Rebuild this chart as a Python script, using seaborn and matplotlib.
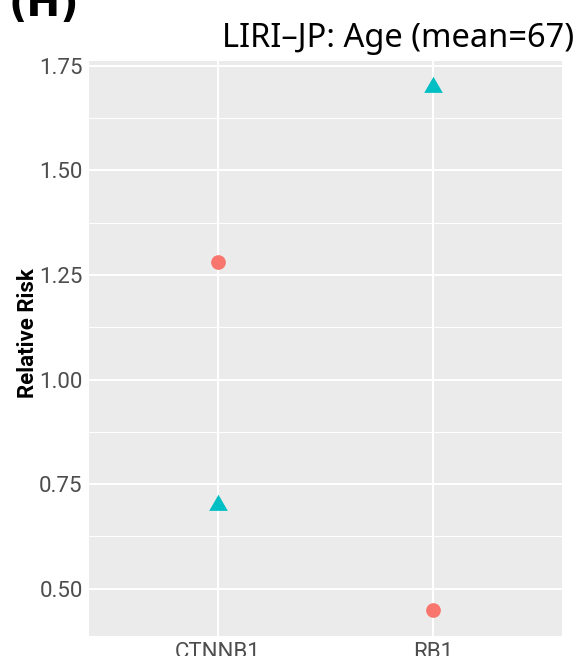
import numpy as np
import pandas as pd
import matplotlib
matplotlib.use("Agg")
import matplotlib.pyplot as plt
from matplotlib.ticker import MultipleLocator
import seaborn as sns

# Relative risk per gene, split by age group
genes = ["CTNNB1", "CTNNB1", "RB1", "RB1"]
age_group = ["below mean", "above mean", "below mean", "above mean"]
relative_risk = [1.28, 0.70, 0.45, 1.70]

y_ticks = [0.50, 0.75, 1.00, 1.25, 1.50, 1.75]
y_tick_labels = ["0.50", "0.75", "1.00", "1.25", "1.50", "1.75"]

df = pd.DataFrame({"gene": genes, "group": age_group, "rr": relative_risk})

sns.set_theme(style="darkgrid")
plt.rcParams["font.family"] = ["Roboto", "DejaVu Sans"]

fig = plt.figure(figsize=(5.77, 6.56), dpi=100)
ax = fig.add_axes([89 / 577, 1 - 635.7 / 656, (561.7 - 89) / 577, (635.7 - 60.7) / 656])
ax.set_facecolor("#EBEBEB")

# equilateral triangle centred on its centroid
tri = [(-1.0, -0.57735), (1.0, -0.57735), (0.0, 1.1547)]

palette = {"below mean": "#F8766D", "above mean": "#00BFC4"}
for grp, mk, sz in [("below mean", "o", 112), ("above mean", tri, 240)]:
    sub = df[df["group"] == grp]
    sns.scatterplot(data=sub, x="gene", y="rr", color=palette[grp], marker=mk,
                    s=sz, linewidth=0, ax=ax, legend=False, zorder=3)

ax.set_xlim(-0.6, 1.6)
ax.set_ylim(0.3875, 1.7625)
ax.set_yticks(y_ticks)
ax.set_yticklabels(y_tick_labels)
ax.yaxis.set_minor_locator(MultipleLocator(0.125))
ax.set_xticks([0, 1])
ax.set_xticklabels(["CTNNB1", "RB1"])

ax.grid(which="major", color="white", linewidth=1.5)
ax.grid(which="minor", axis="y", color="white", linewidth=0.7)
ax.set_axisbelow(True)
for sp in ax.spines.values():
    sp.set_visible(False)

ax.tick_params(axis="both", which="major", length=3, width=0.8, color="#333333",
               labelsize=16, labelcolor="#4D4D4D", pad=1.5)
ax.tick_params(axis="both", which="minor", length=0)

ax.set_xlabel("")
ax.set_ylabel("Relative Risk", fontsize=16, fontweight="bold", color="black")
ax.yaxis.set_label_coords((39 - 89) / 472.7, 0.5256)

fig.text(574 / 577, 1 - 47.3 / 656, "LIRI–JP: Age (mean=67)", ha="right",
         va="baseline", fontsize=23.5, family=["Noto Sans", "DejaVu Sans"], color="black")
fig.text(8 / 577, 1 - 16 / 656, "(H)", ha="left", va="baseline", fontsize=29,
         fontweight="bold", family=["DejaVu Sans"], color="black")

fig.savefig("out.png", dpi=100)
